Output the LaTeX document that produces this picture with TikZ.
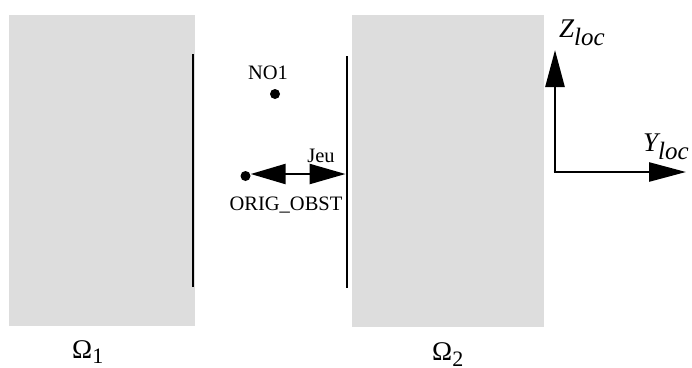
\documentclass[tikz,border=0pt]{standalone}
\usepackage{fontspec}
\setmainfont{Liberation Serif}
\usetikzlibrary{arrows.meta}
\definecolor{blockgray}{HTML}{DDDDDD}
\tikzset{
  block/.style={fill=blockgray, draw=none},
  wall/.style={line width=2.8pt},
  pt/.style={circle, fill=black, inner sep=0pt, minimum size=10pt},
  lbl/.style={font=\fontsize{20.5}{24}\selectfont, inner sep=0pt},
  biglbl/.style={font=\fontsize{27}{30}\selectfont, inner sep=0pt},
  axis/.style={line width=2.6pt, -{Triangle[length=37pt,width=19pt]}},
  gap/.style={line width=2.4pt, {Triangle[length=35pt,width=20pt]}-{Triangle[length=36pt,width=20pt]}}
}
\begin{document}
\begin{tikzpicture}[x=1pt,y=-1pt]
\useasboundingbox (0,0) rectangle (692,367);
% solids
\fill[block] (9,15) rectangle (195,326);
\fill[block] (352,15) rectangle (544,327);
% walls
\coordinate (w1t) at (193,54);
\coordinate (w1b) at (193,287);
\coordinate (w2t) at (347,56);
\coordinate (w2b) at (347,288);
\draw[wall] (w1t) -- (w1b);
\draw[wall] (w2t) -- (w2b);
% points
\node[pt] (no1) at (275,94) {};
\node[lbl, anchor=base] (no1lbl) at (268,79) {NO1};
\node[pt] (orig) at (245.5,176) {};
\node[lbl, anchor=base] (origlbl) at (286,210) {ORIG\_OBST};
\coordinate (jeuend) at (345.5,174);
\draw[gap] (orig.east) ++(0,-2) coordinate (jeustart) (jeustart) -- (jeuend);
\node[lbl, anchor=base] (jeu) at (321,162) {Jeu};
% local axes
\coordinate (ax0) at (555,172);
\coordinate (axz) at (555,50);
\coordinate (axy) at (686,172);
\draw[axis] (ax0) -- (axz);
\draw[axis] (ax0) ++(-1.3,0) -- (axy);
\node[biglbl, anchor=base west] (zl) at (559,37) {\textit{Z\textsubscript{\fontsize{25}{28}\selectfont loc}}};
\node[biglbl, anchor=base west] (yl) at (643,151) {\textit{Y\textsubscript{\fontsize{25}{28}\selectfont loc}}};
% domain labels
\node[biglbl, anchor=base west] (om1) at (72,358) {Ω\textsubscript{\fontsize{22}{26}\selectfont 1}};
\node[biglbl, anchor=base west] (om2) at (432,360) {Ω\textsubscript{\fontsize{22}{26}\selectfont 2}};
\end{tikzpicture}
\end{document}
